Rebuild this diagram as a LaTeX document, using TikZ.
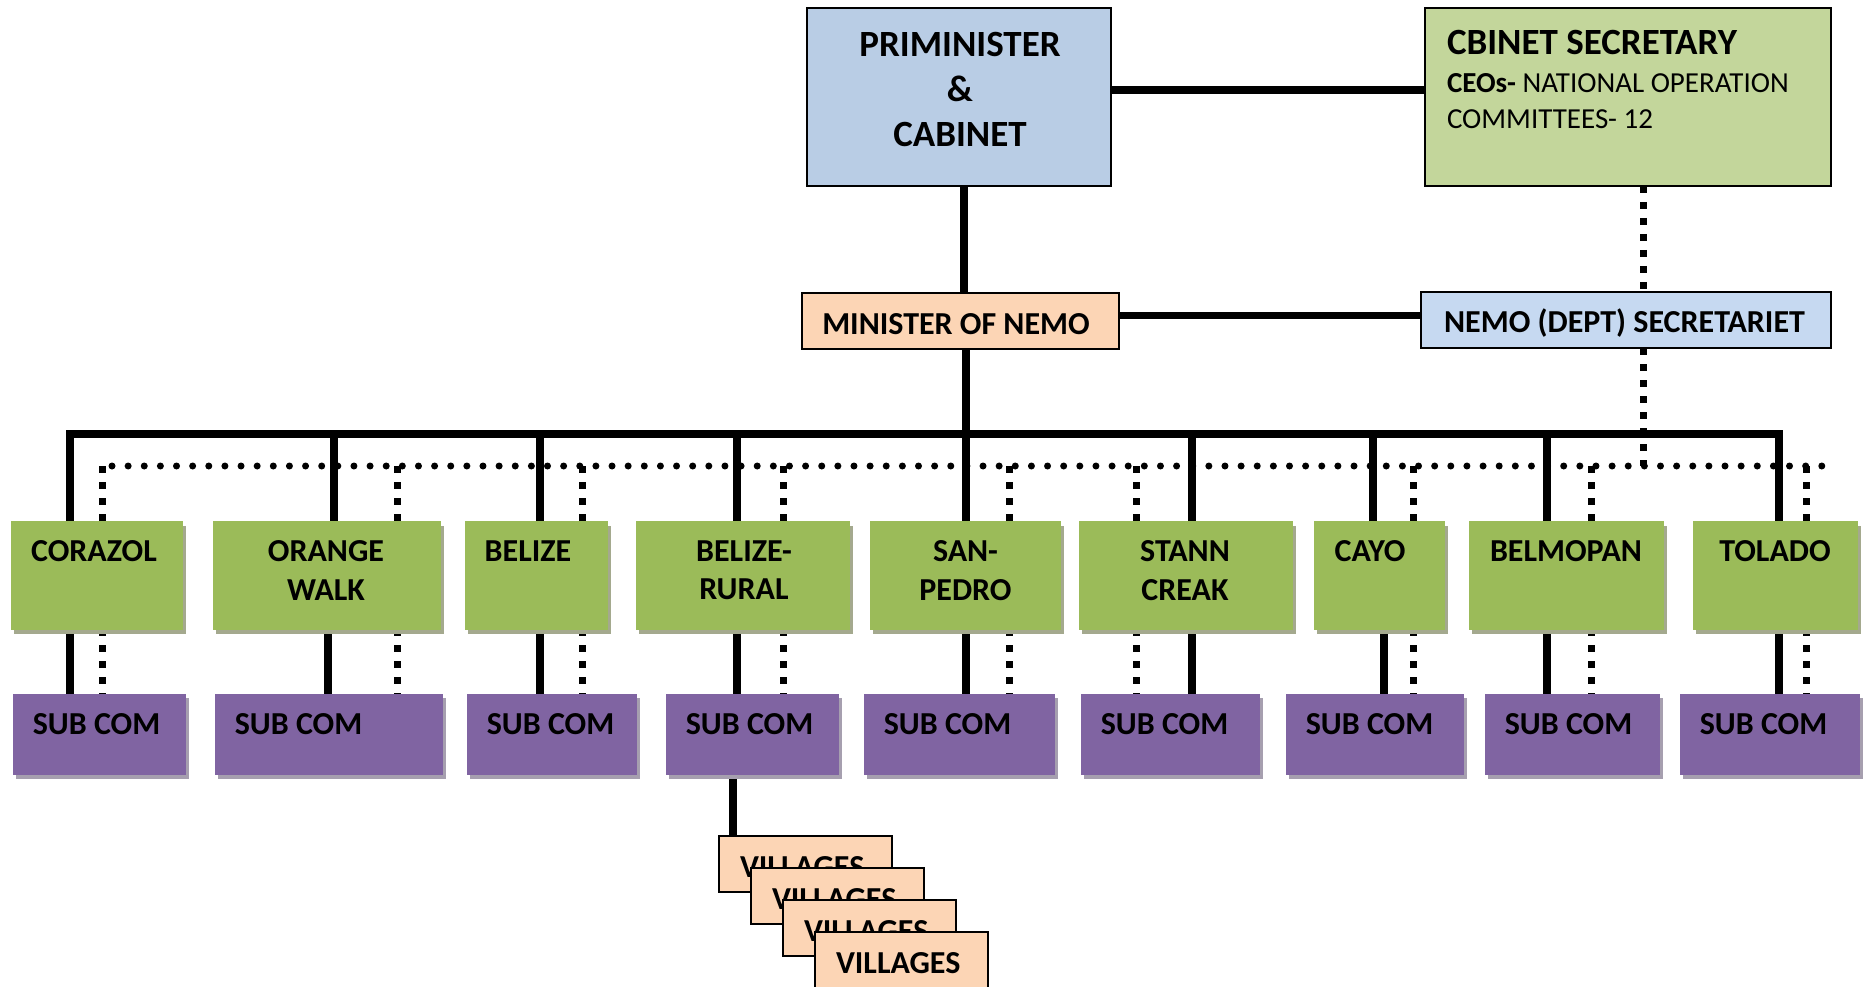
\documentclass[tikz,border=0pt]{standalone}
\usepackage{fontspec}
\setmainfont{Carlito}
\usetikzlibrary{shadows,calc}
\definecolor{pmblue}{HTML}{B9CDE5}
\definecolor{csgreen}{HTML}{C3D69B}
\definecolor{peach}{HTML}{FCD5B5}
\definecolor{secblue}{HTML}{C6D9F1}
\definecolor{distgreen}{HTML}{9BBB59}
\definecolor{subpurple}{HTML}{8064A2}
\definecolor{gshadow}{HTML}{A4A98E}
\definecolor{pshadow}{HTML}{A69FAF}
\newcommand\txtbig{\fontsize{37pt}{45.3pt}\selectfont\bfseries}
\newcommand\txtmid{\fontsize{32pt}{38.3pt}\selectfont\bfseries}
\newcommand\txtsml{\fontsize{29pt}{36pt}\selectfont}
\tikzset{
  box/.style={anchor=north west, inner sep=0pt, outer sep=0pt},
  topbox/.style={box, draw=black, line width=2.2pt},
  distbox/.style={box, fill=distgreen, general shadow={fill=gshadow, shadow xshift=3.3pt, shadow yshift=-4.7pt}},
  subbox/.style={box, fill=subpurple, general shadow={fill=pshadow, shadow xshift=2.5pt, shadow yshift=-4.4pt}},
  village/.style={box, draw=black, line width=2pt, fill=peach},
  txt/.style={inner sep=0pt, outer sep=0pt, font=\txtmid},
  solidline/.style={line width=7.3pt},
  thickline/.style={line width=8.7pt},
  midline/.style={line width=7.7pt},
  dashline/.style={line width=7pt, dash pattern=on 7pt off 9pt},
  dotline/.style={line width=7pt, line cap=round, dash pattern=on 0pt off 16.13pt}
}
\begin{document}
\begin{tikzpicture}[x=1pt,y=-1pt]
\useasboundingbox (0,0) rectangle (1872,987);
% ---------- reference coordinates
\coordinate (r1) at (0,90);
\coordinate (r2) at (0,315.5);
\coordinate (bus) at (0,434);
\coordinate (dotrow) at (0,466);
\coordinate (trunk) at (964,0);
\coordinate (sx) at (1643,0);
\coordinate (vx) at (733,0);
% ---------- top boxes
\node[topbox, fill=pmblue, minimum width=304pt, minimum height=177.5pt] (pm) at (807,8.3) {};
\node[topbox, fill=csgreen, minimum width=406pt, minimum height=177.5pt] (cs) at (1425,8.3) {};
\node[topbox, fill=peach, line width=2pt, minimum width=317.5pt, minimum height=56.5pt] (min) at (801.7,292.5) {};
\node[topbox, fill=secblue, line width=2pt, minimum width=410pt, minimum height=56.5pt] (sec) at (1421.3,291.8) {};
% ---------- upper connectors
\draw[solidline] (pm.south -| trunk) -- (min.north -| trunk);
\draw[dashline] (cs.south -| sx) -- (sec.north -| sx);
\draw[dashline] (sec.south -| sx) -- (sx |- dotrow);
\draw[thickline] (pm.east |- r1) -- (cs.west |- r1);
\draw[midline] (min.east |- r2) -- (sec.west |- r2);
% ---------- top texts
\node[txt, font=\txtbig, align=center] (pmt) at (960,89.3) {PRIMINISTER\\\&\\CABINET};
\node[txt, font=\txtbig, anchor=base west] (cst) at (1447,55) {CBINET SECRETARY};
\node[txt, font=\txtsml, anchor=west, align=left] (csb) at (1447,100.8) {\textbf{CEOs-} NATIONAL OPERATION\\COMMITTEES- 12};
\node[txt, anchor=base] (mint) at (956,334.3) {MINISTER OF NEMO};
\node[txt, anchor=base] (sect) at (1624.5,332.7) {NEMO (DEPT) SECRETARIET};
% ---------- lines between bus / dot row and district boxes
\draw[solidline, line join=miter] (70,521) coordinate (busl) -- (70,434) -- (1779,434) -- (1779,521);
\draw[solidline] (966,349) -- (966,521);
\draw[dotline] (112,466) -- (1822,466);
\foreach \xt/\xb/\xd in {70/70/102, 334/328/397, 540/540/582, 737/737/783, 966/966/1009,
  1192/1192/1136, 1373/1384/1413, 1547/1547/1591, 1779/1779/1806}{
  \coordinate (top\xt) at (\xt,0);
  \coordinate (bot\xb) at (\xb,0);
  \coordinate (dsh\xd) at (\xd,0);
  \draw[solidline] (top\xt |- bus) -- (\xt,521);
  \draw[dashline] (dsh\xd |- dotrow) -- (\xd,521);
  \draw[solidline] (\xb,629) -- (\xb,694);
  \draw[dashline] (\xd,629) -- (\xd,694);
}
\draw[solidline] (733,775) -- (733,836);
% ---------- district and sub-committee boxes
\foreach \n/\x/\w/\s/\sxx/\sw in {
  corazol/11/172/s1/13/173, orange/213/228/s2/215/228, belize/465/143/s3/467/170,
  rural/636/214/s4/666/173, sanpedro/870/191/s5/864/191, stann/1079/214/s6/1081/179,
  cayo/1314/131/s7/1286/178, belmopan/1469/195/s8/1485/175, tolado/1693/165/s9/1680/180}{
  \node[distbox, minimum width=\w pt, minimum height=108.5pt] (\n) at (\x,521) {};
  \node[subbox, minimum width=\sw pt, minimum height=81pt] (\s) at (\sxx,694) {};
  \node[txt, anchor=base west] (\s-t) at ($(\s.north west)+(19.8,40.3)$) {SUB COM};
}
\node[txt] (t1) at (94,551) {CORAZOL};
\node[txt, align=center] (t2) at (326,570.5) {ORANGE\\WALK};
\node[txt] (t3) at (528,551) {BELIZE};
\node[txt, align=center] (t4) at (744,570.5) {BELIZE-\\RURAL};
\node[txt, align=center] (t5) at (965.5,570.5) {SAN-\\PEDRO};
\node[txt, align=center] (t6) at (1185,570.5) {STANN\\CREAK};
\node[txt] (t7) at (1370,551) {CAYO};
\node[txt] (t8) at (1566,551) {BELMOPAN};
\node[txt] (t9) at (1775,551) {TOLADO};
% ---------- villages
\foreach \i/\x/\y in {1/719/836, 2/751/868, 3/783/900, 4/815/932}{
  \node[village, minimum width=173pt, minimum height=56pt] (v\i) at (\x,\y) {};
  \node[txt, anchor=base west] (v\i t) at ($(v\i.north west)+(21,41.3)$) {VILLAGES};
}
\end{tikzpicture}
\end{document}
